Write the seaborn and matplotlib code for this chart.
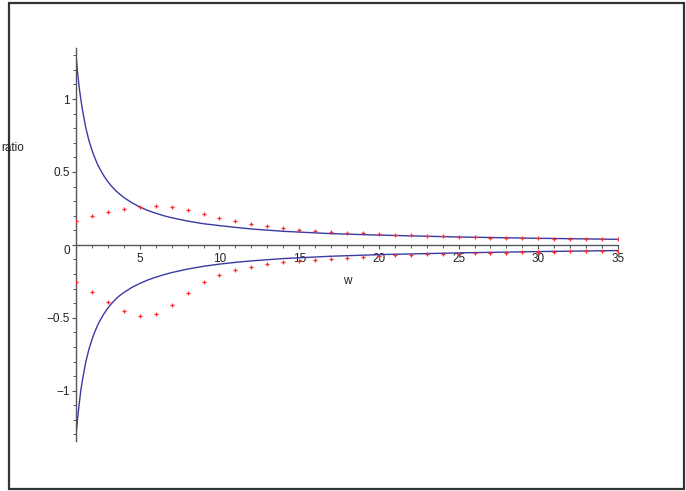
import numpy as np
import pandas as pd
import matplotlib
matplotlib.use("Agg")
import matplotlib.pyplot as plt
from matplotlib.patches import Rectangle
from matplotlib.ticker import MultipleLocator
import seaborn as sns

# ---- data ----
w_points = list(range(1, 36))
upper_points = [0.167, 0.197, 0.225, 0.249, 0.262, 0.267, 0.257, 0.237, 0.212, 0.187,
                0.164, 0.145, 0.129, 0.114, 0.105, 0.096, 0.087, 0.082, 0.078, 0.073,
                0.068, 0.066, 0.062, 0.059, 0.057, 0.053, 0.050, 0.048, 0.046, 0.044,
                0.043, 0.041, 0.040, 0.039, 0.037]
lower_points = [-0.257, -0.323, -0.390, -0.452, -0.487, -0.474, -0.411, -0.329, -0.258, -0.205,
                -0.174, -0.150, -0.132, -0.120, -0.110, -0.103, -0.094, -0.087, -0.082, -0.075,
                -0.072, -0.068, -0.064, -0.062, -0.060, -0.057, -0.055, -0.053, -0.050, -0.048,
                -0.046, -0.045, -0.043, -0.041, -0.039]

w_curve = [1, 1.05, 1.1, 1.15, 1.2, 1.25, 1.3, 1.4, 1.5, 1.6, 1.7, 1.8, 1.9, 2, 2.125, 2.25,
           2.375, 2.5, 2.75, 3, 3.25, 3.5, 3.75, 4, 4.5, 5, 5.5, 6, 6.5, 7, 8, 9, 10, 11, 12,
           14, 17, 20, 25, 30, 35]
upper_curve = [1.30, 1.24, 1.18, 1.13, 1.08, 1.04, 1.00, 0.93, 0.87, 0.81, 0.765, 0.72, 0.685,
               0.65, 0.612, 0.578, 0.547, 0.52, 0.473, 0.433, 0.40, 0.371, 0.347, 0.325, 0.289,
               0.26, 0.236, 0.217, 0.20, 0.186, 0.163, 0.145, 0.132, 0.12, 0.109,
               0.093, 0.077, 0.067, 0.054, 0.045, 0.038]
lower_curve = [-1.31, -1.25, -1.19, -1.14, -1.09, -1.045, -1.00, -0.93, -0.87, -0.81, -0.765,
               -0.72, -0.685, -0.65, -0.612, -0.578, -0.547, -0.52, -0.473, -0.433, -0.40,
               -0.371, -0.347, -0.327, -0.292, -0.265, -0.241, -0.222, -0.205, -0.19, -0.166,
               -0.147, -0.132, -0.12, -0.11, -0.094, -0.078, -0.067, -0.055, -0.046, -0.039]

y_ticks = [-1, -0.5, 0, 0.5, 1]
y_labels = ["\u22121", "\u22120.5", "", "0.5", "1"]
x_ticks = [5, 10, 15, 20, 25, 30, 35]

sns.set_style("ticks")
plt.rcParams["font.family"] = ["Liberation Sans", "DejaVu Sans"]

fig = plt.figure(figsize=(6.86, 4.91), dpi=100)
ax = fig.add_axes([76 / 686, 1 - 441 / 491, (618 - 76) / 686, (441 - 48) / 491])

curve_df = pd.DataFrame({"w": w_curve, "up": upper_curve, "low": lower_curve})
pts_df = pd.DataFrame({"w": w_points, "up": upper_points, "low": lower_points})

line_color = "#3a3aa2"
pt_color = "#ff2a2a"
sns.lineplot(data=curve_df, x="w", y="up", ax=ax, color=line_color, lw=1.0, sort=False)
sns.lineplot(data=curve_df, x="w", y="low", ax=ax, color=line_color, lw=1.0, sort=False)
sns.scatterplot(data=pts_df, x="w", y="up", ax=ax, color=pt_color, marker="+", s=10,
                linewidth=0.9, zorder=3)
sns.scatterplot(data=pts_df, x="w", y="low", ax=ax, color=pt_color, marker="+", s=10,
                linewidth=0.9, zorder=3)

ax.set_xlim(1, 35)
ax.set_ylim(-1.345, 1.35)
ax.set_xlabel("")
ax.set_ylabel("")

for s in ["top", "right"]:
    ax.spines[s].set_visible(False)
ax.spines["bottom"].set_position(("data", 0))
axis_col = "#555555"
for s in ["left", "bottom"]:
    ax.spines[s].set_color(axis_col)
    ax.spines[s].set_linewidth(1.0)

ax.set_xticks(x_ticks)
ax.set_xticklabels([str(t) for t in x_ticks])
ax.xaxis.set_minor_locator(MultipleLocator(1))
ax.set_yticks(y_ticks)
ax.set_yticklabels(y_labels)
ax.yaxis.set_minor_locator(MultipleLocator(0.1))
ax.tick_params(axis="both", which="both", direction="out", colors=axis_col,
               labelcolor="#222222", labelsize=8.5, bottom=True, left=True)
ax.tick_params(axis="both", which="major", length=3.0, width=0.8)
ax.tick_params(axis="both", which="minor", length=2.5, width=0.7)
ax.tick_params(axis="x", pad=3.0)
ax.tick_params(axis="y", pad=1.5)

ax.annotate("0", xy=(1, 0), xycoords="data", xytext=(-9.5, -6), textcoords="offset pixels",
            ha="center", va="center", fontsize=8.5, color="#222222")

fig.text(347 / 686, 1 - 280.5 / 491, "w", ha="center", va="center", fontsize=8.5,
         color="#222222")
fig.text(1 / 686, 1 - 148 / 491, "ratio", ha="left", va="center", fontsize=8.5,
         color="#222222")

fig.patches.append(Rectangle((8.5 / 686, 2.5 / 491), (684 - 8.5) / 686, (488.5 - 2.5) / 491,
                             transform=fig.transFigure, fill=False, edgecolor="#333333",
                             linewidth=1.6, zorder=0))

fig.savefig("out.png", dpi=100)
